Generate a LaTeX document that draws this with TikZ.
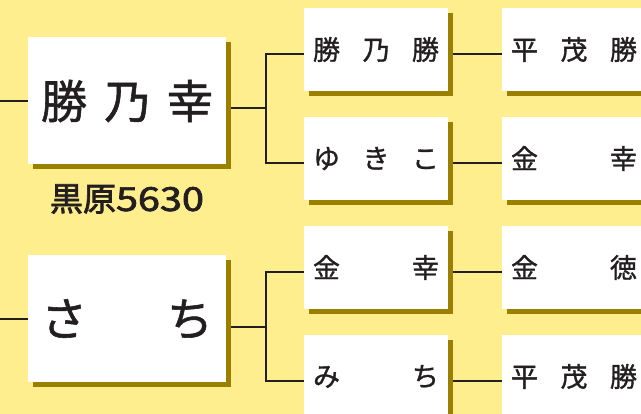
\documentclass[tikz,border=0pt]{standalone}
\usepackage{fontspec}
\usepackage{graphicx}
\newfontfamily\jp{Noto Sans CJK JP}[FakeBold=1.2]
\newfontfamily\jplabel{Noto Sans CJK JP}[FakeBold=2.2]
\usetikzlibrary{shadows}
\definecolor{bgyellow}{HTML}{FFEE8E}
\definecolor{shadowolive}{HTML}{9A7F00}
\definecolor{inkdark}{HTML}{231F20}
\tikzset{
  namebox/.style={fill=white, inner sep=0pt, text=inkdark,
    drop shadow={shadow xshift=5pt, shadow yshift=-5pt, fill=shadowolive, opacity=1}},
  bigbox/.style={namebox, minimum width=198pt, minimum height=127pt,
    font=\jp\fontsize{46}{46}\selectfont},
  smallbox/.style={namebox, minimum width=144pt, minimum height=83pt,
    font=\jp\fontsize{27}{27}\selectfont},
  link/.style={draw=inkdark, line width=1.4pt}
}
\newcommand{\bigname}[1]{\makebox[172pt][s]{#1}}
\newcommand{\smallname}[1]{\makebox[126pt][s]{#1}}
\begin{document}
\begin{tikzpicture}[x=1pt,y=-1pt]
\fill[bgyellow] (0,0) rectangle (641,414);
\useasboundingbox (0,0) rectangle (641,414);
% parents
\node[bigbox] (sire) at (127,101) {\bigname{勝\hfill 乃\hfill 幸}};
\node[text=inkdark, font=\jplabel\fontsize{33}{33}\selectfont] (reg) at (127,199)
  {黒原\scalebox{1.2}[1]{5630}};
\node[bigbox] (dam) at (127,319) {\bigname{さ\hfill ち}};
% grandparents
\node[smallbox] (gs1) at (376,49.5) {\smallname{勝\hfill 乃\hfill 勝}};
\node[smallbox] (gs2) at (376,158.5) {\smallname{ゆ\hfill き\hfill こ}};
\node[smallbox] (gd1) at (376,267.5) {\smallname{金\hfill 幸}};
\node[smallbox] (gd2) at (376,376.5) {\smallname{み\hfill ち}};
% great-grandparents
\node[smallbox] (ggs1) at (574,49.5) {\smallname{平\hfill 茂\hfill 勝}};
\node[smallbox] (ggs2) at (574,158.5) {\smallname{金\hfill 幸}};
\node[smallbox] (ggd1) at (574,267.5) {\smallname{金\hfill 徳}};
\node[smallbox] (ggd2) at (574,376.5) {\smallname{平\hfill 茂\hfill 勝}};
% connectors
\coordinate (inS) at (0,101);
\coordinate (inD) at (0,319);
\coordinate (forkS) at (266,108);
\coordinate (forkD) at (266,327);
\draw[link] (inS) -- (sire.west);
\draw[link] (inD) -- (dam.west);
\draw[link] ([xshift=5pt]sire.east |- forkS) -- (forkS);
\draw[link] ([xshift=5pt]dam.east |- forkD) -- (forkD);
\draw[link] ([yshift=-4.5pt]gs1.west) -| (forkS) |- ([yshift=-4.5pt]gs2.west);
\draw[link] ([yshift=-4.5pt]gd1.west) -| (forkD) |- ([yshift=-4.5pt]gd2.west);
\foreach \a/\b in {gs1/ggs1, gs2/ggs2, gd1/ggd1, gd2/ggd2}
  \draw[link] ([xshift=5pt,yshift=-4.5pt]\a.east) -- ([yshift=-4.5pt]\b.west);
\end{tikzpicture}
\end{document}
